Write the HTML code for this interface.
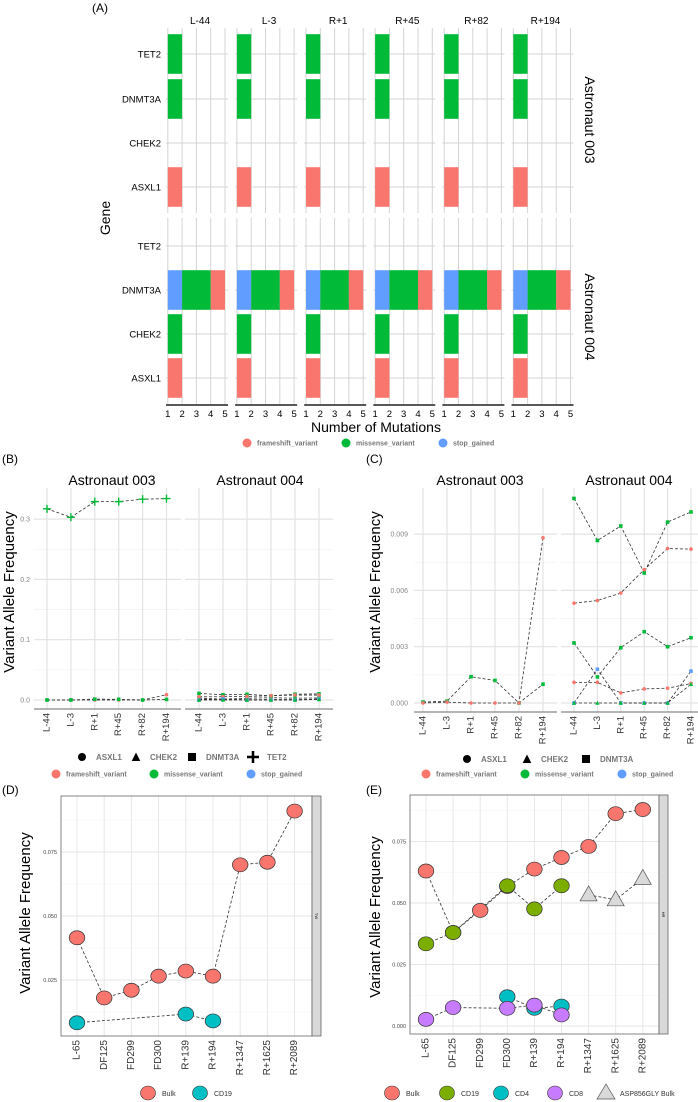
<!DOCTYPE html>
<html><head><meta charset="utf-8"><style>
html,body{margin:0;padding:0;background:#fff;}
svg{display:block;font-family:"Liberation Sans",sans-serif;}
</style></head><body>
<svg id="fig" width="698" height="1102" viewBox="0 0 698 1102" xmlns="http://www.w3.org/2000/svg"></svg>
<script>
// ---------- Panel A data ----------
const aTimepoints = ['L-44','L-3','R+1','R+45','R+82','R+194'];
const aGenes = ['TET2','DNMT3A','CHEK2','ASXL1'];
const a003Stop = [0,0,0,0];
const a003Missense = [1,1,0,0];
const a003Frameshift = [0,0,0,1];
const a004Stop = [0,1,0,0];
const a004Missense = [0,2,1,0];
const a004Frameshift = [0,1,0,1];
const aXTicks = [1,2,3,4,5];
// ---------- Panel B/C data ----------
const bcTimepoints = ['L-44','L-3','R+1','R+45','R+82','R+194'];
const tet2_003 = [0.317,0.303,0.329,0.329,0.333,0.334];
const asxl1_003 = [0,0.00005,0,0,0,0.0088];
const dnmt3a_003 = [0.00005,0.0001,0.0014,0.0012,0,0.001];
const dnmt3aA_004 = [0.0109,0.00866,0.00943,0.00693,0.00964,0.01018];
const dnmt3aB_004 = [0.0032,0.00139,0.00295,0.0038,0.003,0.00348];
const asxl1A_004 = [0.00532,0.00546,0.00586,0.00711,0.00823,0.0082];
const asxl1B_004 = [0.0011,0.0011,0.00054,0.00075,0.00079,0.00104];
const stop_004 = [0,0.0018,0,0,0,0.0017];
const chek2_004 = [0,0,0,0,0,0.001];
const bTicks = [0,0.1,0.2,0.3];
const bTickLabels = ['0.0','0.1','0.2','0.3'];
const cTicks = [0,0.003,0.006,0.009];
const cTickLabels = ['0.000','0.003','0.006','0.009'];
// ---------- Panel D/E data ----------
const deTimepoints = ['L-65','DF125','FD299','FD300','R+139','R+194','R+1347','R+1625','R+2089'];
const dBulk = [0.0415,0.018,0.021,0.0265,0.0285,0.0265,0.070,0.071,0.091];
const dCD19 = [0.0083,null,null,null,0.0117,0.009,null,null,null];
const eBulk = [0.063,0.038,0.047,0.0567,0.0638,0.0685,0.073,0.0863,0.088];
const eCD19 = [0.0334,0.038,null,0.057,0.0476,0.057,null,null,null];
const eCD4 = [null,null,null,0.0119,0.0072,0.0081,null,null,null];
const eCD8 = [0.0027,0.0075,null,0.0072,0.0085,0.0045,null,null,null];
const eAsp = [null,null,null,null,null,null,0.0533,0.0513,0.060];
const deTicks = [0,0.025,0.05,0.075];
const deTickLabels = ['0.000','0.025','0.050','0.075'];

const RED='#F8766D', GREEN='#00BA38', BLUE='#619CFF';
const NS='http://www.w3.org/2000/svg';
const svg=document.getElementById('fig');
function mk(tag,name,attrs,parent){
  const e=document.createElementNS(NS,tag);
  
  
  for(const k in attrs) e.setAttribute(k,attrs[k]);
  (parent||svg).appendChild(e);
  return e;
}
function txt(name,x,y,s,attrs,parent){
  const a=Object.assign({x:x,y:y},attrs||{});
  const t=mk('text',name,a,parent); t.textContent=s; return t;
}

// ================= Panel A =================
txt('panel-a-label',92,12,'(A)',{'font-size':12});
const aG=mk('g','panel-a',{});
const aRowsTop=[54,99,143,187], aRowsBot=[246,290,334,378];
const aFacetY=[[28,213],[218,405]];
function ax(left,v){return left+1.8+(v-1)*14.3;}
aTimepoints.forEach((tp,i)=>{
  const left=166+69.1*i, w=62;
  txt('facet-strip-'+tp,left+w/2+3,24,tp,{'font-size':10,'text-anchor':'middle'},aG);
  aFacetY.forEach((fy,fi)=>{
    aXTicks.forEach(t=>{
      mk('line','grid-v',{x1:ax(left,t),x2:ax(left,t),y1:fy[0],y2:fy[1],stroke:'#d4d4d4','stroke-width':1},aG);
    });
    const rows=fi===0?aRowsTop:aRowsBot;
    rows.forEach(ry=>mk('line','grid-h',{x1:left,x2:left+w,y1:ry,y2:ry,stroke:'#d4d4d4','stroke-width':1},aG));
    const st=fi===0?a003Stop:a004Stop, ms=fi===0?a003Missense:a004Missense, fs=fi===0?a003Frameshift:a004Frameshift;
    aGenes.forEach((g,gi)=>{
      let start=1;
      [[st[gi],BLUE,'stop'],[ms[gi],GREEN,'missense'],[fs[gi],RED,'frameshift']].forEach(([n,c,nm])=>{
        if(n>0){
          mk('rect','bar-'+nm+'-'+g,{x:ax(left,start),y:rows[gi]-19.8,width:ax(left,start+n)-ax(left,start),height:39.6,fill:c},aG);
          start+=n;
        }
      });
    });
  });
  mk('line','x-axis-line',{x1:left,x2:left+w,y1:405,y2:405,stroke:'#222','stroke-width':1.5},aG);
  aXTicks.forEach(t=>txt('x-tick',ax(left,t),417,String(t),{'font-size':9.5,'text-anchor':'middle'},aG));
});
aGenes.forEach((g,i)=>{
  txt('gene-label',161,aRowsTop[i]+3.5,g,{'font-size':9.5,'text-anchor':'end'},aG);
  txt('gene-label',161,aRowsBot[i]+3.5,g,{'font-size':9.5,'text-anchor':'end'},aG);
});
txt('y-axis-title',0,0,'Gene',{'font-size':14,'text-anchor':'middle',transform:'translate(110,218) rotate(-90)'},aG);
txt('x-axis-title',376,432,'Number of Mutations',{'font-size':14,'text-anchor':'middle'},aG);
txt('facet-row-003',0,0,'Astronaut 003',{'font-size':14,'text-anchor':'middle',transform:'translate(585,120) rotate(90)'},aG);
txt('facet-row-004',0,0,'Astronaut 004',{'font-size':14,'text-anchor':'middle',transform:'translate(585,317) rotate(90)'},aG);
function colorLegend(y,items,parent,fs){
  items.forEach(([cx,c,label])=>{
    mk('circle','legend-key',{cx:cx,cy:y,r:4.5,fill:c},parent);
    txt('legend-entry',cx+10,y+2.5,label,{'font-size':fs||7,'fill':'#777','font-weight':'bold'},parent);
  });
}
colorLegend(443,[[247,RED,'frameshift_variant'],[346,GREEN,'missense_variant'],[443,BLUE,'stop_gained']],aG);

// ================= Panels B & C =================
txt('panel-b-label',2,463,'(B)',{'font-size':12});
txt('panel-c-label',366,463,'(C)',{'font-size':12});
function shapeAt(shape,x,y,c,parent,s){
  s=s||1.8;
  if(shape==='square') mk('rect','point-square',{x:x-s,y:y-s,width:2*s,height:2*s,fill:c},parent);
  else if(shape==='circle') mk('circle','point-circle',{cx:x,cy:y,r:s,fill:c},parent);
  else if(shape==='triangle') mk('polygon','point-triangle',{points:`${x},${y-s-0.5} ${x-s-0.3},${y+s} ${x+s+0.3},${y+s}`,fill:c},parent);
  else if(shape==='plus'){mk('path','point-plus',{d:`M${x-4},${y}H${x+4}M${x},${y-4}V${y+4}`,stroke:c,'stroke-width':1.4},parent);}
}
function linePanel(name,cfg){
  const g=mk('g',name,{});
  const y=v=>cfg.y0-v*cfg.k;
  for(let i=0;i<cfg.ticks.length;i++){
    const t=cfg.ticks[i];
    mk('line','grid-major',{x1:cfg.left,x2:cfg.right,y1:y(t),y2:y(t),stroke:'#e3e3e3','stroke-width':1.2},g);
    if(i<cfg.ticks.length-1){const m=(t+cfg.ticks[i+1])/2;mk('line','grid-minor',{x1:cfg.left,x2:cfg.right,y1:y(m),y2:y(m),stroke:'#f2f2f2','stroke-width':0.8},g);}
  }
  const xs=bcTimepoints.map((_,i)=>cfg.x0+i*cfg.dx);
  xs.forEach(x=>mk('line','grid-v',{x1:x,x2:x,y1:cfg.top,y2:cfg.bottom,stroke:'#e3e3e3','stroke-width':1.2},g));
  mk('line','x-axis-line',{x1:cfg.left,x2:cfg.right,y1:cfg.bottom,y2:cfg.bottom,stroke:'#888','stroke-width':1.3},g);
  cfg.series.forEach(s=>{
    const pts=s.v.map((v,i)=>[xs[i],y(v)]);
    mk('polyline','series-line',{points:pts.map(p=>p.join(',')).join(' '),fill:'none',stroke:'#333','stroke-width':0.8,'stroke-dasharray':'3,2'},g);
    pts.forEach(p=>shapeAt(s.shape,p[0],p[1],s.c,g));
  });
  bcTimepoints.forEach((tp,i)=>txt('x-tick-'+tp,0,0,tp,{'font-size':9.5,'fill':'#333','text-anchor':'end','dominant-baseline':'middle',transform:`translate(${xs[i]},${cfg.bottom+4}) rotate(-90)`},g));
  return {g,y};
}
const b1=linePanel('panel-b-003',{left:34,right:181,top:488,bottom:709,y0:700,k:603,ticks:bTicks,x0:47,dx:23.9,series:[
 {v:tet2_003,shape:'plus',c:GREEN},{v:asxl1_003,shape:'circle',c:RED},{v:dnmt3a_003,shape:'square',c:GREEN}]});
const b2=linePanel('panel-b-004',{left:185,right:333,top:488,bottom:709,y0:700,k:603,ticks:bTicks,x0:199,dx:24,series:[
 {v:dnmt3aA_004,shape:'square',c:GREEN},{v:dnmt3aB_004,shape:'square',c:GREEN},{v:asxl1A_004,shape:'circle',c:RED},{v:asxl1B_004,shape:'circle',c:RED},{v:stop_004,shape:'square',c:BLUE},{v:chek2_004,shape:'triangle',c:GREEN}]});
bTicks.forEach((t,i)=>txt('y-tick',30,b1.y(t)+2.5,bTickLabels[i],{'font-size':7,'fill':'#888','text-anchor':'end'}));
txt('b-facet-003',112,485,'Astronaut 003',{'font-size':14,'text-anchor':'middle'});
txt('b-facet-004',260,485,'Astronaut 004',{'font-size':14,'text-anchor':'middle'});
txt('b-y-axis-title',0,0,'Variant Allele Frequency',{'font-size':15,'text-anchor':'middle',transform:'translate(14,592) rotate(-90)'});
const c1=linePanel('panel-c-003',{left:414,right:557,top:488,bottom:712,y0:703,k:18767,ticks:cTicks,x0:423,dx:24,series:[
 {v:dnmt3a_003,shape:'square',c:GREEN},{v:asxl1_003,shape:'circle',c:RED}]});
const c2=linePanel('panel-c-004',{left:561,right:698,top:488,bottom:712,y0:703,k:18767,ticks:cTicks,x0:574,dx:23.4,series:[
 {v:dnmt3aA_004,shape:'square',c:GREEN},{v:dnmt3aB_004,shape:'square',c:GREEN},{v:asxl1A_004,shape:'circle',c:RED},{v:asxl1B_004,shape:'circle',c:RED},{v:stop_004,shape:'square',c:BLUE},{v:chek2_004,shape:'triangle',c:GREEN}]});
cTicks.forEach((t,i)=>txt('y-tick',408,c1.y(t)+2.5,cTickLabels[i],{'font-size':7,'fill':'#888','text-anchor':'end'}));
txt('c-facet-003',480,485,'Astronaut 003',{'font-size':14,'text-anchor':'middle'});
txt('c-facet-004',629,485,'Astronaut 004',{'font-size':14,'text-anchor':'middle'});
txt('c-y-axis-title',0,0,'Variant Allele Frequency',{'font-size':15,'text-anchor':'middle',transform:'translate(380,592) rotate(-90)'});
function shapeLegend(y,items){
  items.forEach(([x,shape,label])=>{
    shapeAt(shape,x,y,'#000',svg,shape==='plus'?0:4);
    if(shape==='plus') mk('path','legend-plus',{d:`M${x-6},${y}H${x+6}M${x},${y-6}V${y+6}`,stroke:'#000','stroke-width':2.5});
    txt('legend-entry',x+14,y+3,label,{'font-size':8,'fill':'#777','font-weight':'bold'});
  });
}
shapeLegend(757,[[82,'circle','ASXL1'],[136,'triangle','CHEK2'],[192,'square','DNMT3A'],[253,'plus','TET2']]);
colorLegend(774,[[56,RED,'frameshift_variant'],[154,GREEN,'missense_variant'],[251,BLUE,'stop_gained']],svg);
shapeLegend(759,[[467,'circle','ASXL1'],[527,'triangle','CHEK2'],[586,'square','DNMT3A']]);
colorLegend(774,[[426,RED,'frameshift_variant'],[525,GREEN,'missense_variant'],[622,BLUE,'stop_gained']],svg);

// ================= Panels D & E =================
txt('panel-d-label',2,794,'(D)',{'font-size':12});
txt('panel-e-label',366,794,'(E)',{'font-size':12});
function dotPanel(name,cfg){
  const g=mk('g',name,{});
  const y=v=>cfg.y0-v*cfg.k;
  const xs=deTimepoints.map((_,i)=>cfg.x0+i*cfg.dx);
  mk('rect','plot-background',{x:cfg.left,y:cfg.top,width:cfg.right-cfg.left,height:cfg.bottom-cfg.top,fill:'#fff'},g);
  const mt=[...cfg.ticks,0.1];
  for(let i=0;i<cfg.ticks.length;i++){
    const t=cfg.ticks[i],m=(t+mt[i+1])/2;
    if(y(t)>cfg.top&&y(t)<cfg.bottom) mk('line','grid-major',{x1:cfg.left,x2:cfg.right,y1:y(t),y2:y(t),stroke:'#e6e6e6','stroke-width':0.9},g);
    if(y(m)>cfg.top&&y(m)<cfg.bottom) mk('line','grid-minor',{x1:cfg.left,x2:cfg.right,y1:y(m),y2:y(m),stroke:'#f3f3f3','stroke-width':0.6},g);
  }
  xs.forEach(x=>mk('line','grid-v',{x1:x,x2:x,y1:cfg.top,y2:cfg.bottom,stroke:'#e6e6e6','stroke-width':0.9},g));
  cfg.series.forEach(s=>{
    const pts=[];s.v.forEach((v,i)=>{if(v!==null)pts.push([xs[i],y(v)]);});
    mk('polyline','series-line',{points:pts.map(p=>p.join(',')).join(' '),fill:'none',stroke:'#333','stroke-width':0.8,'stroke-dasharray':'3,2'},g);
  });
  cfg.series.forEach(s=>{
    s.v.forEach((v,i)=>{
      if(v===null)return;
      const x=xs[i],yy=y(v);
      if(s.shape==='triangle') mk('polygon','point-'+s.n,{points:`${x},${yy-9} ${x-8.5},${yy+6} ${x+8.5},${yy+6}`,fill:s.c,stroke:'#555','stroke-width':0.7},g);
      else mk('ellipse','point-'+s.n,{cx:x,cy:yy,rx:7.8,ry:7,fill:s.c,stroke:'#333','stroke-width':0.7},g);
    });
  });
  mk('rect','plot-border',{x:cfg.left,y:cfg.top,width:cfg.right-cfg.left,height:cfg.bottom-cfg.top,fill:'none',stroke:'#666','stroke-width':0.8},g);
  mk('rect','facet-strip',{x:cfg.right,y:cfg.top,width:9,height:cfg.bottom-cfg.top,fill:'#d9d9d9',stroke:'#666','stroke-width':0.8},g);
  txt('facet-strip-label',0,0,cfg.strip,{'font-size':4,'text-anchor':'middle',transform:`translate(${cfg.right+3},${(cfg.top+cfg.bottom)/2}) rotate(90)`},g);
  cfg.ticks.forEach((t,i)=>{
    if(y(t)<cfg.top||y(t)>cfg.bottom) return;
    txt('y-tick',cfg.left-4,y(t)+2,deTickLabels[i],{'font-size':5.5,'fill':'#444','text-anchor':'end'},g);
  });
  deTimepoints.forEach((tp,i)=>txt('x-tick-'+tp,0,0,tp,{'font-size':10,'fill':'#333','text-anchor':'end','dominant-baseline':'middle',transform:`translate(${xs[i]},${cfg.bottom+4}) rotate(-90)`},g));
  return g;
}
dotPanel('panel-d',{left:61,right:312,top:796,bottom:1036,y0:1044,k:2560,ticks:deTicks,x0:77,dx:27.2,strip:'TW',series:[
 {n:'bulk',v:dBulk,c:RED},{n:'cd19',v:dCD19,c:'#00BFC4'}]});
dotPanel('panel-e',{left:410,right:659,top:795,bottom:1034,y0:1026,k:2460,ticks:deTicks,x0:426,dx:27.1,strip:'HR',series:[
 {n:'bulk',v:eBulk,c:RED},{n:'cd19',v:eCD19,c:'#7CAE00'},{n:'cd4',v:eCD4,c:'#00BFC4'},{n:'cd8',v:eCD8,c:'#C77CFF'},{n:'asp856gly-bulk',v:eAsp,c:'#d9d9d9',shape:'triangle'}]});
txt('d-y-axis-title',0,0,'Variant Allele Frequency',{'font-size':15,'text-anchor':'middle',transform:'translate(30,913) rotate(-90)'});
txt('e-y-axis-title',0,0,'Variant Allele Frequency',{'font-size':15,'text-anchor':'middle',transform:'translate(380,917) rotate(-90)'});
function dotLegend(items){
  items.forEach(([x,c,label,tri])=>{
    if(tri) mk('polygon','legend-key',{points:`${x},${1084} ${x-9},${1099} ${x+9},${1099}`,fill:c,stroke:'#555','stroke-width':0.7});
    else mk('ellipse','legend-key',{cx:x,cy:1093,rx:7.5,ry:7,fill:c,stroke:'#333','stroke-width':0.6});
    txt('legend-entry',x+14,1096,label,{'font-size':7,'fill':'#333'});
  });
}
dotLegend([[148,RED,'Bulk'],[200,'#00BFC4','CD19']]);
dotLegend([[392,RED,'Bulk'],[447,'#7CAE00','CD19'],[501,'#00BFC4','CD4'],[555,'#C77CFF','CD8'],[606,'#d9d9d9','ASP856GLY Bulk',true]]);
</script>
</body></html>
